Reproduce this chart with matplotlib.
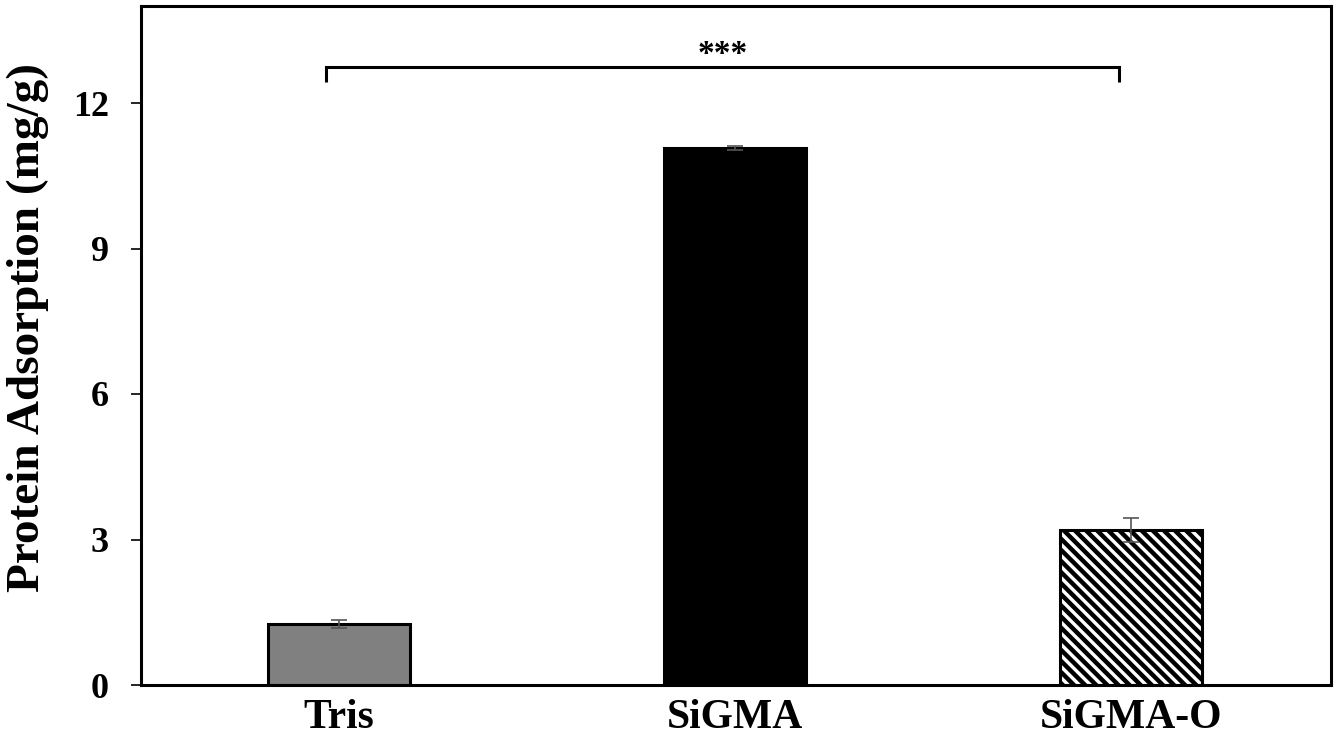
import matplotlib
matplotlib.use("Agg")
import matplotlib.pyplot as plt
import numpy as np

categories = ["Tris", "SiGMA", "SiGMA-O"]
values = [1.26, 11.08, 3.20]
errors = [0.09, 0.04, 0.25]
yticks = [0, 3, 6, 9, 12]
bar_colors = ["#808080", "#000000", "#ffffff"]
BS = chr(92)
hatches = [None, None, BS * 6]

DPI = 200
plt.rcParams["font.family"] = ["Liberation Serif", "DejaVu Serif"]
plt.rcParams["font.weight"] = "bold"
plt.rcParams["hatch.linewidth"] = 1.6
plt.rcParams["hatch.color"] = "black"

fig = plt.figure(figsize=(1339 / DPI, 741 / DPI), dpi=DPI)
ax = fig.add_axes([141 / 1339, 1 - 685 / 741, (1331 - 141) / 1339, (685 - 6) / 741])

x = np.arange(len(categories))
bars = ax.bar(x, values, width=0.36, color=bar_colors, edgecolor="black",
              linewidth=1.1, zorder=2)
for b, h in zip(bars, hatches):
    if h:
        b.set_hatch(h)
ax.errorbar(x, values, yerr=errors, fmt="none", ecolor="#555555",
            elinewidth=0.6, capsize=2.8, capthick=0.6, zorder=3)

# significance bracket
bx0, bx1 = -0.033, 1.97
by, bdrop = 12.74, 0.3
ax.plot([bx0, bx0, bx1, bx1], [by - bdrop, by, by, by - bdrop], color="black",
        lw=1.1, solid_capstyle="butt", solid_joinstyle="miter", zorder=4)
ax.text(0.97, 12.68, "***", ha="center", va="bottom", fontsize=12,
        fontweight="bold")

ax.set_xlim(-0.5, 2.505)
ax.set_ylim(0, 14)
ax.set_yticks(yticks)
ax.set_yticklabels([str(t) for t in yticks], fontsize=13, fontweight="bold")
ax.set_xticks(x)
ax.set_xticklabels(categories, fontsize=15, fontweight="bold")
ax.tick_params(axis="y", direction="out", length=3.6, width=0.6, pad=8)
ax.tick_params(axis="x", length=0, pad=5)
for s in ax.spines.values():
    s.set_linewidth(1.1)
ax.set_ylabel("Protein Adsorption (mg/g)", fontsize=17, fontweight="bold")
ax.yaxis.set_label_coords(-0.077, 0.527)

fig.savefig("out.png", dpi=DPI)
